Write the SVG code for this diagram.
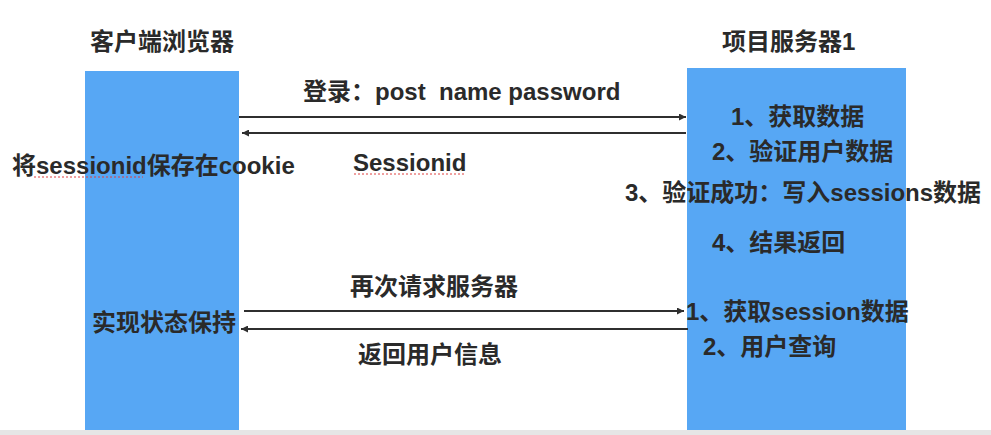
<svg xmlns="http://www.w3.org/2000/svg" width="991" height="435" viewBox="0 0 991 435">
<defs>
<style>
.box{fill:#57a7f4}
.t{font-family:"Liberation Sans","Noto Sans CJK SC",sans-serif;font-weight:bold;font-size:24px;fill:#2a2a2a}
.c{stroke:#2f2f2f;stroke-width:2;fill:none}
.sq{stroke:#e04040;stroke-width:1;stroke-dasharray:2 2;fill:none}
</style>
<marker id="ah" viewBox="0 0 10 10" refX="10" refY="5" markerWidth="9" markerHeight="7" markerUnits="userSpaceOnUse" orient="auto">
<path d="M0,0 L10,5 L0,10 z" fill="#2f2f2f"/>
</marker>
</defs>
<rect width="991" height="435" fill="#ffffff"/>
<rect x="0" y="430" width="991" height="5" fill="#e6e6e6"/>
<g id="client">
<rect class="box" x="85" y="71" width="154" height="359"/>
<text class="t" x="90" y="50">客户端浏览器</text>
<text class="t" x="12" y="174">将sessionid保存在cookie</text>
<path class="sq" d="M34,177 H143"/>
<text class="t" x="92" y="331">实现状态保持</text>
</g>
<g id="server">
<rect class="box" x="687" y="68" width="219" height="362"/>
<text class="t" x="722" y="50">项目服务器1</text>
<text class="t" x="731" y="125">1、获取数据</text>
<text class="t" x="712" y="160">2、验证用户数据</text>
<text class="t" x="625" y="201">3、验证成功：写入sessions数据</text>
<text class="t" x="712" y="251">4、结果返回</text>
<text class="t" x="686" y="320">1、获取session数据</text>
<text class="t" x="703" y="355">2、用户查询</text>
</g>
<g id="connectors">
<line class="c" x1="239" y1="117" x2="686" y2="117" marker-end="url(#ah)"/>
<line class="c" x1="686" y1="133" x2="242" y2="133" marker-end="url(#ah)"/>
<line class="c" x1="244" y1="311" x2="684" y2="311" marker-end="url(#ah)"/>
<line class="c" x1="688" y1="329" x2="241" y2="329" marker-end="url(#ah)"/>
<text class="t" x="303" y="100" xml:space="preserve">登录：post  name password</text>
<text class="t" x="353" y="171">Sessionid</text>
<path class="sq" d="M354,174 H465"/>
<text class="t" x="350" y="295">再次请求服务器</text>
<text class="t" x="358" y="363">返回用户信息</text>
</g>
</svg>
